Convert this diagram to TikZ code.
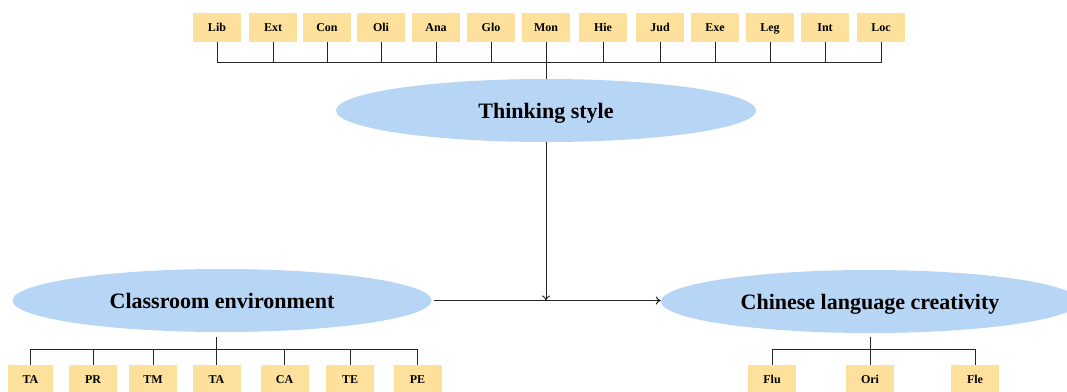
\documentclass[tikz,border=0pt]{standalone}
\usepackage{fontspec}
\setmainfont{Liberation Serif}
\usetikzlibrary{arrows.meta}
\usetikzlibrary{shapes}
\definecolor{boxfill}{HTML}{FCE09B}
\definecolor{ellfill}{HTML}{B7D5F4}

\begin{document}
\begin{tikzpicture}[x=1pt,y=-1pt]
   \tikzset{BoxStyle/.style={fill=boxfill, minimum width=48pt, minimum height=29pt, inner sep=0pt, text depth=0pt, font=\fontsize{12}{14}\selectfont\bfseries}}
   \tikzset{EllStyle/.style={ellipse, fill=ellfill, minimum width=420pt, minimum height=63pt, inner sep=0pt, text depth=0pt, font=\fontsize{22}{26}\selectfont\bfseries}}
   \tikzset{EdgeStyle/.style={line width=1pt, black!85}}
   \tikzset{ArrowStyle/.style={EdgeStyle, -{To[length=5pt,width=8pt]}}}
   \useasboundingbox (0,0) rectangle (1067,391);
   \clip (0,0) rectangle (1067,391);
   % thinking style dimensions
   \node[BoxStyle] (Lib) at (217,27.5) {Lib};
   \node[BoxStyle] (Ext) at (273,27.5) {Ext};
   \node[BoxStyle] (Con) at (327,27.5) {Con};
   \node[BoxStyle] (Oli) at (381,27.5) {Oli};
   \node[BoxStyle] (Ana) at (436,27.5) {Ana};
   \node[BoxStyle] (Glo) at (491,27.5) {Glo};
   \node[BoxStyle] (Mon) at (546,27.5) {Mon};
   \node[BoxStyle] (Hie) at (603,27.5) {Hie};
   \node[BoxStyle] (Jud) at (660,27.5) {Jud};
   \node[BoxStyle] (Exe) at (715,27.5) {Exe};
   \node[BoxStyle] (Leg) at (770,27.5) {Leg};
   \node[BoxStyle] (Int) at (825,27.5) {Int};
   \node[BoxStyle] (Loc) at (881,27.5) {Loc};
   % the three ellipses
   \node[EllStyle] (think) at (546,110.5) {Thinking style};
   \node[EllStyle, minimum width=419pt] (class) at (222,300.5) {Classroom environment};
   \node[EllStyle, minimum width=418pt] (chin) at (870,301.5) {Chinese language creativity};
   % classroom environment dimensions
   \node[BoxStyle, minimum width=45pt] (TA1) at (30.5,379.5) {TA};
   \node[BoxStyle] (PR) at (93,379.5) {PR};
   \node[BoxStyle] (TM) at (153,379.5) {TM};
   \node[BoxStyle] (TA2) at (216.5,379.5) {TA};
   \node[BoxStyle] (CA) at (284.5,379.5) {CA};
   \node[BoxStyle] (TE) at (350,379.5) {TE};
   \node[BoxStyle] (PE) at (417.5,379.5) {PE};
   % creativity dimensions
   \node[BoxStyle] (Flu) at (772,379.5) {Flu};
   \node[BoxStyle] (Ori) at (870,379.5) {Ori};
   \node[BoxStyle] (Fle) at (975,379.5) {Fle};
   % bars
   \coordinate (topbar) at (0,62);
   \coordinate (lowbar) at (0,349);
   \coordinate (lowstem) at (0,337);
   \draw[EdgeStyle] (Lib.south) -- (Lib.south |- topbar) -- (Loc.south |- topbar) -- (Loc.south);
   \draw[EdgeStyle] (Ext.south) -- (Ext.south |- topbar);
   \draw[EdgeStyle] (Con.south) -- (Con.south |- topbar);
   \draw[EdgeStyle] (Oli.south) -- (Oli.south |- topbar);
   \draw[EdgeStyle] (Ana.south) -- (Ana.south |- topbar);
   \draw[EdgeStyle] (Glo.south) -- (Glo.south |- topbar);
   \draw[EdgeStyle] (Mon.south) -- (think.north);
   \draw[EdgeStyle] (Hie.south) -- (Hie.south |- topbar);
   \draw[EdgeStyle] (Jud.south) -- (Jud.south |- topbar);
   \draw[EdgeStyle] (Exe.south) -- (Exe.south |- topbar);
   \draw[EdgeStyle] (Leg.south) -- (Leg.south |- topbar);
   \draw[EdgeStyle] (Int.south) -- (Int.south |- topbar);
   \draw[EdgeStyle] (TA1.north) -- (TA1.north |- lowbar) -- (PE.north |- lowbar) -- (PE.north);
   \draw[EdgeStyle] (PR.north) -- (PR.north |- lowbar);
   \draw[EdgeStyle] (TM.north) -- (TM.north |- lowbar);
   \draw[EdgeStyle] (TA2.north) -- (TA2.north |- lowstem);
   \draw[EdgeStyle] (CA.north) -- (CA.north |- lowbar);
   \draw[EdgeStyle] (TE.north) -- (TE.north |- lowbar);
   \draw[EdgeStyle] (Flu.north) -- (Flu.north |- lowbar) -- (Fle.north |- lowbar) -- (Fle.north);
   \draw[EdgeStyle] (Ori.north) -- (Ori.north |- lowstem);
   % arrows
   \coordinate (meet) at (think.south |- class.east);
   \draw[ArrowStyle] ([xshift=2pt]class.east) -- (chin.west |- class.east);
   \draw[ArrowStyle] (think.south) -- (meet);
\end{tikzpicture}
\end{document}
